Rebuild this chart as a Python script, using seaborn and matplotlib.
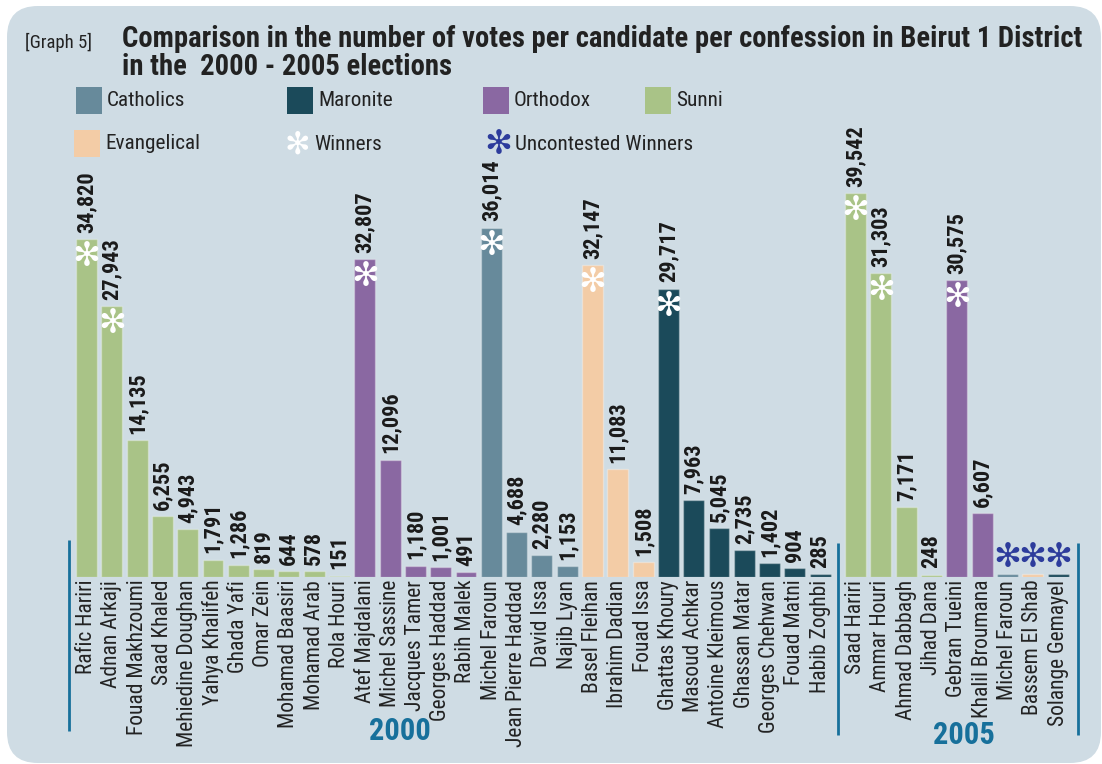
import os
import matplotlib
matplotlib.use("Agg")
import matplotlib.pyplot as plt
from matplotlib import font_manager
from matplotlib.font_manager import FontProperties
from matplotlib.patches import FancyBboxPatch, Rectangle
import numpy as np
import pandas as pd
import seaborn as sns

# ---- data -------------------------------------------------------------
names_2000 = [
    "Rafic Hariri", "Adnan Arkaji", "Fouad Makhzoumi", "Saad Khaled",
    "Mehiedine Doughan", "Yahya Khalifeh", "Ghada Yafi", "Omar Zein",
    "Mohamad Baasiri", "Mohamad Arab", "Rola Houri",
    "Atef Majdalani", "Michel Sassine", "Jacques Tamer", "Georges Haddad",
    "Rabih Malek",
    "Michel Faroun", "Jean Pierre Haddad", "David Issa", "Najib Lyan",
    "Basel Fleihan", "Ibrahim Dadian", "Fouad Issa",
    "Ghattas Khoury", "Masoud Achkar", "Antoine Kleimous", "Ghassan Matar",
    "Georges Chehwan", "Fouad Matni", "Habib Zoghbi",
]
votes_2000 = [
    34820, 27943, 14135, 6255, 4943, 1791, 1286, 819, 644, 578, 151,
    32807, 12096, 1180, 1001, 491,
    36014, 4688, 2280, 1153,
    32147, 11083, 1508,
    29717, 7963, 5045, 2735, 1402, 904, 285,
]
confession_2000 = (["Sunni"] * 11 + ["Orthodox"] * 5 + ["Catholics"] * 4
                   + ["Evangelical"] * 3 + ["Maronite"] * 7)
winners_2000 = ["Rafic Hariri", "Adnan Arkaji", "Atef Majdalani",
                "Michel Faroun", "Basel Fleihan", "Ghattas Khoury"]

names_2005 = [
    "Saad Hariri", "Ammar Houri", "Ahmad Dabbagh", "Jihad Dana",
    "Gebran Tueini", "Khalil Broumana",
    "Michel Faroun", "Bassem El Shab", "Solange Gemayel",
]
votes_2005 = [39542, 31303, 7171, 248, 30575, 6607, None, None, None]
confession_2005 = ["Sunni", "Sunni", "Sunni", "Sunni", "Orthodox", "Orthodox",
                   "Catholics", "Evangelical", "Maronite"]
winners_2005 = ["Saad Hariri", "Ammar Houri", "Gebran Tueini"]
uncontested_2005 = ["Michel Faroun", "Bassem El Shab", "Solange Gemayel"]

confessions = ["Catholics", "Maronite", "Orthodox", "Sunni", "Evangelical"]
palette = {
    "Catholics": "#678a9b",
    "Maronite": "#1b4a5a",
    "Orthodox": "#8a68a2",
    "Sunni": "#a9c387",
    "Evangelical": "#f3cca6",
}

# ---- styling ----------------------------------------------------------
PANEL = "#cfdce4"
ACCENT = "#17709b"
STAR_BLUE = "#2d3c9c"
INK = "#222222"
STUB = 300          # visible sliver for seats won without a contest
GROUP_GAP = 0.4     # extra space between the two elections

sns.set_theme(style="white")
plt.rcParams["font.family"] = ["DejaVu Sans"]

_files = {os.path.basename(f.fname): f.fname
          for f in font_manager.fontManager.ttflist}


def _find(cands):
    for c in cands:
        if c in _files:
            return _files[c]
    return None


REG_FILE = _find(["LiberationSansNarrow-Regular.ttf",
                  "RobotoCondensed-Regular.ttf", "Roboto-Condensed.ttf",
                  "NotoSans-Condensed.ttf", "DejaVuSansCondensed.ttf"])
BOLD_FILE = _find(["LiberationSansNarrow-Bold.ttf",
                   "RobotoCondensed-Bold.ttf", "Roboto-BoldCondensed.ttf",
                   "NotoSans-CondensedBold.ttf", "OpenSans-CondBold.ttf",
                   "DejaVuSansCondensed-Bold.ttf"])


def narrow(size, bold=False):
    path = BOLD_FILE if bold else REG_FILE
    if path:
        return FontProperties(fname=path, size=size)
    return FontProperties(family="DejaVu Sans", stretch="condensed",
                          weight="bold" if bold else "normal", size=size)


W, H = 1102, 764
fig = plt.figure(figsize=(W / 100, H / 100), dpi=100)
fig.patch.set_facecolor("white")


def fx(px):
    return px / W


def fy(py):
    return 1 - py / H


# rounded background panel
panel = FancyBboxPatch((fx(7), fy(763)), fx(1094), fy(6) - fy(763),
                       boxstyle="round,pad=0,rounding_size=0.028",
                       mutation_aspect=W / H,
                       transform=fig.transFigure, facecolor=PANEL,
                       edgecolor="none", zorder=-5)
fig.patches.append(panel)

# ---- bars -------------------------------------------------------------
pos_2000 = np.arange(len(names_2000), dtype=float)
pos_2005 = len(names_2000) + GROUP_GAP + np.arange(len(names_2005), dtype=float)

df = pd.DataFrame({
    "pos": np.concatenate([pos_2000, pos_2005]),
    "name": names_2000 + names_2005,
    "votes": [np.nan if v is None else float(v) for v in votes_2000 + votes_2005],
    "confession": confession_2000 + confession_2005,
    "winner": [n in winners_2000 for n in names_2000]
              + [n in winners_2005 for n in names_2005],
    "uncontested": [False] * len(names_2000)
                   + [n in uncontested_2005 for n in names_2005],
})
df["height"] = df["votes"].fillna(STUB)

baseline_px, top_px = 577, 150
ax = fig.add_axes([0, fy(baseline_px), 1, (baseline_px - top_px) / H])
ax.set_facecolor("none")
ax.set_zorder(2)

sns.barplot(data=df, x="pos", y="height", hue="confession", palette=palette,
            native_scale=True, dodge=False, width=0.83, saturation=1,
            errorbar=None, legend=False, ax=ax,
            edgecolor=(1, 1, 1, 0.3), linewidth=1)

px_per_unit = 25.3
x0_px = 86.5
ax.set_xlim(-x0_px / px_per_unit, (W - x0_px) / px_per_unit)
ax.set_ylim(0, (baseline_px - top_px) / 0.0097)
for s in ax.spines.values():
    s.set_visible(False)
ax.set_yticks([])
ax.set_ylabel("")
ax.set_xlabel("")
ax.grid(False)
ax.set_xticks(df["pos"])
ax.set_xticklabels(df["name"], rotation=90, color=INK,
                   fontproperties=narrow(15.5))
ax.tick_params(axis="x", length=0, pad=2)

# value labels and winner stars
for _, r in df.iterrows():
    if not np.isnan(r["votes"]):
        ax.annotate(f"{int(r['votes']):,}", (r["pos"], r["votes"]),
                    xytext=(0, 4.5), textcoords="offset points",
                    rotation=90, ha="center", va="bottom",
                    color="#1a1a1a", fontproperties=narrow(16, bold=True))
    if r["winner"]:
        ax.annotate("\u273b", (r["pos"], r["height"]), xytext=(0, -12.5),
                    textcoords="offset points", ha="center", va="center",
                    fontsize=24, color="white", family="DejaVu Sans")
    if r["uncontested"]:
        ax.annotate("\u273b", (r["pos"], r["height"]), xytext=(0, 12),
                    textcoords="offset points", ha="center", va="center",
                    fontsize=24, color=STAR_BLUE, family="DejaVu Sans")

# election separators and year captions
xt = ax.get_xaxis_transform()
sep_x = [pos_2000[0] - 0.7, (pos_2000[-1] + pos_2005[0]) / 2,
         pos_2005[-1] + 0.78]
for i, x in enumerate(sep_x):
    y_top = 0.087 if i == 0 else 0.08
    y_bot = -0.361 if i == 0 else -0.370
    ax.plot([x, x], [y_top, y_bot], transform=xt, clip_on=False,
            color=ACCENT, lw=2, solid_capstyle="butt")
ax.text(12.4, -0.361, "2000", transform=xt, ha="center", va="center",
        color=ACCENT, fontproperties=narrow(22, bold=True))
ax.text(34.7, -0.370, "2005", transform=xt, ha="center", va="center",
        color=ACCENT, fontproperties=narrow(22, bold=True))

# ---- title ------------------------------------------------------------
fig.text(fx(25), fy(48), "[Graph 5]", color=INK, va="baseline",
         fontproperties=narrow(13.5))
title_fp = narrow(20.6, bold=True)
fig.text(fx(122), fy(47),
         "Comparison in the number of votes per candidate per confession in Beirut 1 District",
         color=INK, va="baseline", fontproperties=title_fp)
fig.text(fx(122), fy(75), "in the  2000 - 2005 elections",
         color=INK, va="baseline", fontproperties=title_fp)

# ---- legend -----------------------------------------------------------
legend_rows = [
    [("Catholics", 76, 87), ("Maronite", 287, 87), ("Orthodox", 483, 87),
     ("Sunni", 645, 87)],
    [("Evangelical", 74, 130)],
]
for row in legend_rows:
    for label, x, y in row:
        fig.patches.append(Rectangle((fx(x), fy(y + 27)), fx(26),
                                     fy(y) - fy(y + 27),
                                     transform=fig.transFigure,
                                     facecolor=palette[label],
                                     edgecolor="none"))
        fig.text(fx(x + 31), fy(y + 13.5), label, color=INK, va="center",
                 fontproperties=narrow(15.3))

fig.text(fx(297), fy(145), "\u273b", fontsize=22, color="white",
         ha="center", va="center", family="DejaVu Sans")
fig.text(fx(314), fy(145), "Winners", color=INK, va="center",
         fontproperties=narrow(15.3))
fig.text(fx(498), fy(145), "\u273b", fontsize=24, color=STAR_BLUE,
         ha="center", va="center", family="DejaVu Sans")
fig.text(fx(515), fy(145), "Uncontested Winners", color=INK, va="center",
         fontproperties=narrow(15.3))

fig.savefig("out.png", dpi=100, facecolor=fig.get_facecolor())
